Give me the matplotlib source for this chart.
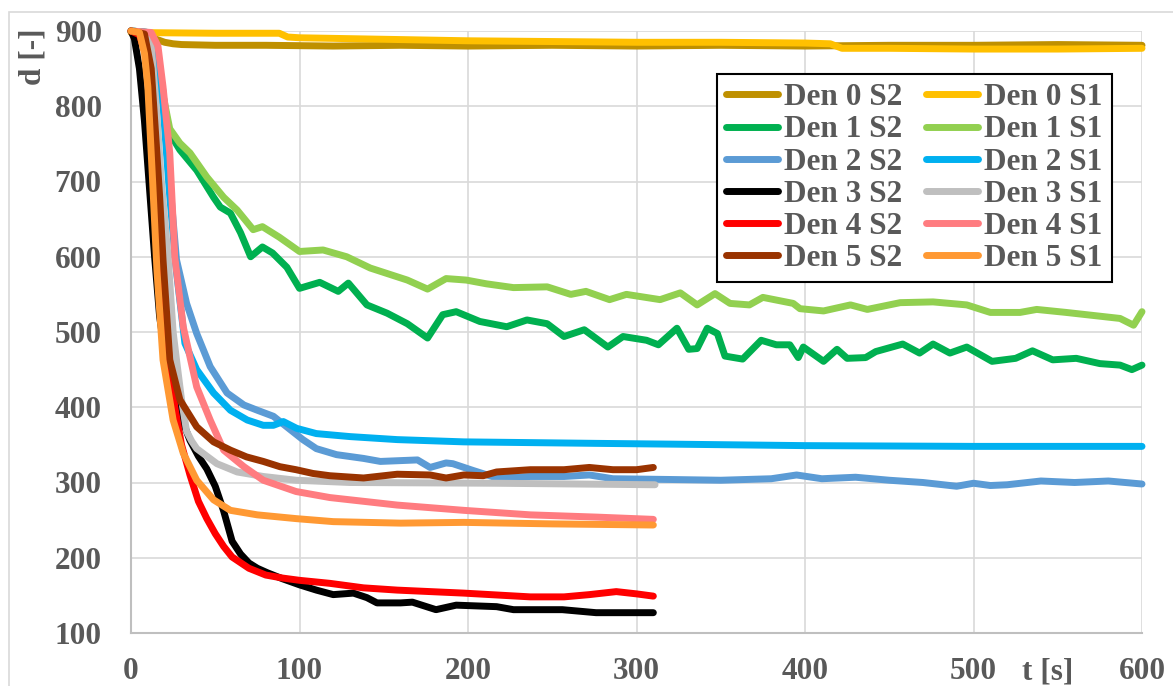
import matplotlib
matplotlib.use("Agg")
import matplotlib.pyplot as plt
from matplotlib.patches import Rectangle
from matplotlib.lines import Line2D

# ---------------- data ----------------
den0_s2_x = [0, 5, 10, 15, 20, 25, 30, 50, 80, 120, 160, 200, 250, 300, 350, 400, 450, 500, 550, 600]
den0_s2_y = [900, 898, 894, 889, 885, 883, 882, 881, 881, 880, 881, 880, 881, 880, 881, 880, 881, 881, 882, 881]

den0_s1_x = [0, 50, 88, 93, 100, 150, 200, 250, 300, 350, 400, 415, 422, 450, 500, 550, 600]
den0_s1_y = [898, 897, 897, 892, 891, 889, 887, 886, 885, 885, 884, 883, 877, 877, 876, 876, 877]

den1_s2_x = [0, 10, 14, 19, 20, 23, 29, 39, 49, 53, 59, 65, 71, 78, 84, 92.5, 100, 112, 123, 129, 140, 152,
             164, 176, 185, 193, 207, 223, 235, 247, 257, 269, 283, 292, 306, 313, 324, 331, 336, 342, 348,
             352.5, 363, 374, 383, 391, 396, 399, 411, 419, 425, 436, 442, 458, 468, 476, 486, 496, 511,
             525, 535, 547, 561, 575, 587, 594, 600]
den1_s2_y = [900, 898, 870, 815, 799, 764, 742, 715, 679, 666, 658, 632, 600, 613, 605, 586, 558, 566, 554, 565,
             536, 525, 511, 492, 523, 527, 514, 507, 516, 511, 494, 503, 480, 494, 489, 483, 505, 477, 478,
             505, 498, 468, 464, 489, 483, 483, 466, 480, 461, 477, 465, 466, 474, 484, 472, 484, 472, 480,
             461, 465, 475, 463, 465, 458, 456, 450, 456]

den1_s1_x = [0, 10, 14, 19, 23, 29, 35, 45, 55, 63, 72.5, 78, 88, 100, 114, 128, 142, 164, 176, 187, 199,
             211, 227, 247, 261, 270, 284, 294, 314, 326, 336, 346.6, 355.5, 367, 375, 393, 397, 411, 427,
             437, 456.5, 476, 496, 510, 527.6, 537.5, 555, 575, 587, 595, 600]
den1_s1_y = [900, 898, 870, 815, 770, 751, 738, 706, 679, 662, 636, 640, 626, 607, 609, 600, 585, 569, 557,
             571, 569, 564, 559, 560, 550, 554, 543, 550, 543, 552, 536, 551, 538, 536, 546, 538, 531, 528,
             536, 530, 539, 540, 536, 526, 526, 530, 526, 521, 518, 509, 527]

den2_s2_x = [0, 10, 15, 19, 23, 27, 33, 39, 47, 57, 67, 75, 84.5, 92.4, 102, 110, 122, 138, 148, 170, 177.5,
             187, 191, 203, 217, 237, 257, 272, 286, 320, 350, 380, 395, 410, 430, 450, 470, 490, 500, 510,
             520, 540, 560, 580, 600]
den2_s2_y = [900, 898, 870, 820, 700, 596, 538, 498, 454, 419, 403, 396, 388, 374, 357, 345, 337, 332, 328,
             330, 320, 326, 325, 316, 306, 308, 308, 310, 305, 304, 303, 305, 310, 305, 307, 303, 300, 295,
             299, 296, 297, 302, 300, 302, 298]

den2_s1_x = [0, 10, 15, 19, 23, 27, 32, 39, 49, 59, 69, 78.5, 84.5, 90.4, 98.3, 110, 130, 158, 197.5, 237,
             276.5, 320, 400, 500, 600]
den2_s1_y = [900, 898, 860, 800, 680, 580, 485, 450, 419, 396, 383, 376, 376, 381, 372, 365, 361, 357, 354,
             353, 352, 351, 349, 348, 348]

den3_s2_x = [0, 2, 5, 8, 11, 14, 17, 21, 25, 30, 35, 40, 45, 50, 55, 60, 65, 70, 75, 81, 90, 100, 110, 120,
             132, 140, 146, 160, 167, 181, 193, 217, 227, 256, 276, 310]
den3_s2_y = [900, 890, 850, 780, 690, 600, 520, 460, 420, 385, 356, 335, 318, 295, 262, 222, 205, 193, 186,
             180, 172, 164, 157, 151, 153, 147, 140, 140, 141, 131, 137, 135, 131, 131, 127, 127]

den3_s1_x = [0, 8, 12, 15, 18, 22, 25, 27, 30, 33, 36, 39, 51, 63, 78.5, 98, 130, 217, 311]
den3_s1_y = [900, 898, 880, 800, 700, 600, 500, 463, 410, 368, 355, 345, 325, 314, 308, 303, 300, 299, 297]

den4_s2_x = [0, 5, 10, 14, 18, 22, 26, 30, 35, 40, 45, 50, 55, 60, 70, 80, 90, 100, 118, 138, 158, 197.5,
             237, 257, 272, 288, 300, 310]
den4_s2_y = [900, 895, 860, 750, 600, 480, 400, 350, 310, 275, 252, 232, 215, 201, 186, 177, 173, 170, 166,
             160, 157, 153, 148, 148, 151, 155, 152, 149]

den4_s1_x = [0, 12, 16, 19, 23, 26, 31, 39, 47, 55, 67, 78.5, 98, 118, 158, 197.5, 237, 276.5, 310]
den4_s1_y = [900, 898, 880, 826, 738, 600, 507, 427, 383, 343, 321, 303, 288, 280, 270, 263, 257, 254, 251]

den5_s2_x = [0, 8, 12, 15, 17, 19, 23, 29, 39, 49, 59, 68.6, 78.5, 88.4, 98, 108, 118, 138, 158, 177.5, 187,
             197.5, 209, 217, 237, 257, 272, 286, 300, 310]
den5_s2_y = [900, 896, 850, 750, 680, 596, 463, 410, 374, 354, 343, 334, 328, 321, 317, 312, 309, 306, 311,
             310, 306, 310, 309, 314, 317, 317, 320, 317, 317, 320]

den5_s1_x = [0, 5, 8, 10, 13, 15.4, 19, 25, 31, 39, 49, 59, 75, 98, 120, 160, 197.5, 250, 310]
den5_s1_y = [900, 898, 870, 826, 693, 582, 463, 383, 339, 303, 277, 263, 257, 252, 248, 246, 247, 245, 243.5]

labels = ["Den 0 S2", "Den 0 S1", "Den 1 S2", "Den 1 S1", "Den 2 S2", "Den 2 S1",
          "Den 3 S2", "Den 3 S1", "Den 4 S2", "Den 4 S1", "Den 5 S2", "Den 5 S1"]
colors = ["#BF9000", "#FFC000", "#00B050", "#92D050", "#5B9BD5", "#00B0F0",
          "#000000", "#BFBFBF", "#FF0000", "#FF7C80", "#993300", "#FF9933"]
series = [(den0_s2_x, den0_s2_y), (den0_s1_x, den0_s1_y), (den1_s2_x, den1_s2_y), (den1_s1_x, den1_s1_y),
          (den2_s2_x, den2_s2_y), (den2_s1_x, den2_s1_y), (den3_s2_x, den3_s2_y), (den3_s1_x, den3_s1_y),
          (den4_s2_x, den4_s2_y), (den4_s1_x, den4_s1_y), (den5_s2_x, den5_s2_y), (den5_s1_x, den5_s1_y)]

x_ticks = [0, 100, 200, 300, 400, 500, 600]
y_ticks = [100, 200, 300, 400, 500, 600, 700, 800, 900]

# ---------------- figure ----------------
W, H = 1173, 686
fig = plt.figure(figsize=(W / 100, H / 100), dpi=100)
ax = fig.add_axes([131 / W, 1 - 633 / H, (1142 - 131) / W, (633 - 31) / H])

txt_color = "#595959"
font = dict(family="Liberation Serif", weight="bold", size=22.5)

for (xs, ys), lab, c in zip(series, labels, colors):
    ax.plot(xs, ys, color=c, lw=5, solid_capstyle="round", solid_joinstyle="round",
            label=lab, clip_on=False, zorder=3)

ax.set_xlim(0, 600)
ax.set_ylim(100, 900)
ax.set_xticks(x_ticks)
ax.set_yticks(y_ticks)
ax.grid(True, color="#D9D9D9", lw=1.2, zorder=0)
ax.set_axisbelow(True)
for s in ["top", "right"]:
    ax.spines[s].set_visible(False)
for s in ["left", "bottom"]:
    ax.spines[s].set_color("#BFBFBF")
    ax.spines[s].set_linewidth(1.5)
ax.tick_params(length=0)
ax.tick_params(axis="y", pad=21)
ax.tick_params(axis="x", pad=17)
for lab in ax.get_xticklabels() + ax.get_yticklabels():
    lab.set_fontproperties(matplotlib.font_manager.FontProperties(**font))
    lab.set_color(txt_color)

# axis labels
fig.text(1048 / W, 1 - 672 / H, "t [s]", ha="center", va="center", color=txt_color, **font)
fig.text(33 / W, 1 - 57 / H, "d [-]", ha="center", va="center", rotation=90, color=txt_color, **font)

# legend: rows pair S2 / S1 -> reorder for column-wise filling
order = [0, 2, 4, 6, 8, 10, 1, 3, 5, 7, 9, 11]
leg_handles = [Line2D([0], [0], color=colors[i], lw=5, solid_capstyle="round") for i in order]
leg = ax.legend(leg_handles, [labels[i] for i in order], ncol=2,
                loc="upper right", bbox_to_anchor=(0.970, 0.9286),
                prop=matplotlib.font_manager.FontProperties(**font),
                frameon=True, fancybox=False, edgecolor="black", framealpha=1,
                handlelength=1.65, handletextpad=0.2, columnspacing=0.75,
                labelspacing=0.1, borderpad=0.3, borderaxespad=0)
leg.get_frame().set_linewidth(1.5)
for t in leg.get_texts():
    t.set_color(txt_color)
leg.set_zorder(5)

# outer chart border
fig.patches.append(Rectangle((9 / W, -0.01), 1.2, 1 - 12 / H + 0.01, transform=fig.transFigure,
                             fill=False, edgecolor="#D9D9D9", lw=1.2))

fig.savefig("out.png", dpi=100)
